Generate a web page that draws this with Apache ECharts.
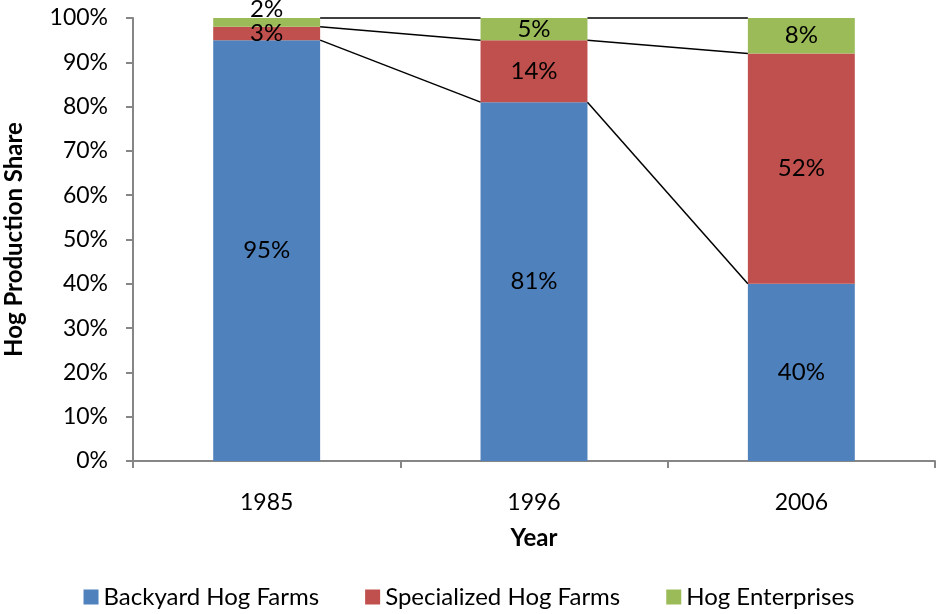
<!DOCTYPE html>
<html>
<head>
<meta charset="utf-8">
<script src="https://cdn.jsdelivr.net/npm/echarts@6/dist/echarts.min.js"></script>
<style>
  html, body { margin: 0; padding: 0; background: #fff; }
  #chart { width: 938px; height: 614px; }
</style>
</head>
<body>
<div id="chart"></div>
<script>
// Hog production share by farm type (percent)
const years = ['1985', '1996', '2006'];
const backyard = [95, 81, 40];
const specialized = [3, 14, 52];
const enterprises = [2, 5, 8];
const yTicks = [0, 10, 20, 30, 40, 50, 60, 70, 80, 90, 100];

const FONT = 'Lato';
const BAR_FRAC = 0.4;

// cumulative tops of each stack layer, used for the connecting series lines
const layers = [backyard, specialized, enterprises];
const cumTops = layers.map((_, li) =>
  years.map((_, ci) => layers.slice(0, li + 1).reduce((s, arr) => s + arr[ci], 0))
);

const chart = echarts.init(document.getElementById('chart'), null, { renderer: 'canvas' });

const labelStyle = {
  show: true,
  position: 'inside',
  color: '#000',
  fontFamily: FONT,
  fontSize: 24,
  formatter: p => p.value + '%'
};

function barSeries(name, data, color, extra) {
  return {
    name: name,
    type: 'bar',
    stack: 'total',
    barWidth: (BAR_FRAC * 100) + '%',
    itemStyle: { color: color },
    label: labelStyle,
    data: data.map((v, i) => (extra && extra[i]) ? Object.assign({ value: v }, extra[i]) : v),
    z: 2
  };
}

chart.setOption({
  animation: false,
  grid: { left: 133, right: 3, top: 18, bottom: 153, containLabel: false, outerBoundsMode: 'none' },
  legend: {
    bottom: 0,
    left: 'center',
    itemWidth: 15,
    itemHeight: 15,
    itemGap: 46,
    icon: 'rect',
    textStyle: { fontFamily: FONT, fontSize: 24, color: '#000' },
    data: ['Backyard Hog Farms', 'Specialized Hog Farms', 'Hog Enterprises']
  },
  xAxis: {
    type: 'category',
    data: years,
    name: 'Year',
    nameLocation: 'middle',
    nameGap: 65,
    nameTextStyle: { fontFamily: FONT, fontSize: 24, fontWeight: 'bold', color: '#000' },
    axisLine: { lineStyle: { color: '#868686', width: 2 } },
    axisTick: { show: true, length: 7, lineStyle: { color: '#868686', width: 2 } },
    axisLabel: { fontFamily: FONT, fontSize: 23, color: '#000', margin: 30 }
  },
  yAxis: {
    type: 'value',
    min: yTicks[0],
    max: yTicks[yTicks.length - 1],
    interval: yTicks[1] - yTicks[0],
    name: 'Hog Production Share',
    nameLocation: 'middle',
    nameGap: 107,
    nameRotate: 90,
    nameTextStyle: { fontFamily: FONT, fontSize: 24, fontWeight: 'bold', color: '#000' },
    splitLine: { show: false },
    axisLine: { show: true, lineStyle: { color: '#868686', width: 2 } },
    axisTick: { show: true, length: 7, lineStyle: { color: '#868686', width: 2 } },
    axisLabel: { fontFamily: FONT, fontSize: 23, color: '#000', margin: 25, formatter: v => v + '%' }
  },
  series: [
    barSeries('Backyard Hog Farms', backyard, '#4F81BD'),
    barSeries('Specialized Hog Farms', specialized, '#C0504D'),
    barSeries('Hog Enterprises', enterprises, '#9BBB59', [{ label: { offset: [0, -13] } }]),
    {
      // series lines joining each layer boundary between neighbouring bars
      type: 'custom',
      name: 'seriesLines',
      silent: true,
      z: 3,
      data: years.slice(0, -1).map((_, i) => [i, 0]),
      encode: { x: 0, y: 1 },
      renderItem: function (params, api) {
        const i = api.value(0);
        const half = api.size([1, 0])[0] * BAR_FRAC / 2;
        const children = cumTops.map(tops => {
          const a = api.coord([i, tops[i]]);
          const b = api.coord([i + 1, tops[i + 1]]);
          return {
            type: 'line',
            shape: { x1: a[0] + half, y1: a[1], x2: b[0] - half, y2: b[1] },
            style: { stroke: '#000', lineWidth: 1.5 }
          };
        });
        return { type: 'group', children: children };
      }
    }
  ]
});
</script>
</body>
</html>
